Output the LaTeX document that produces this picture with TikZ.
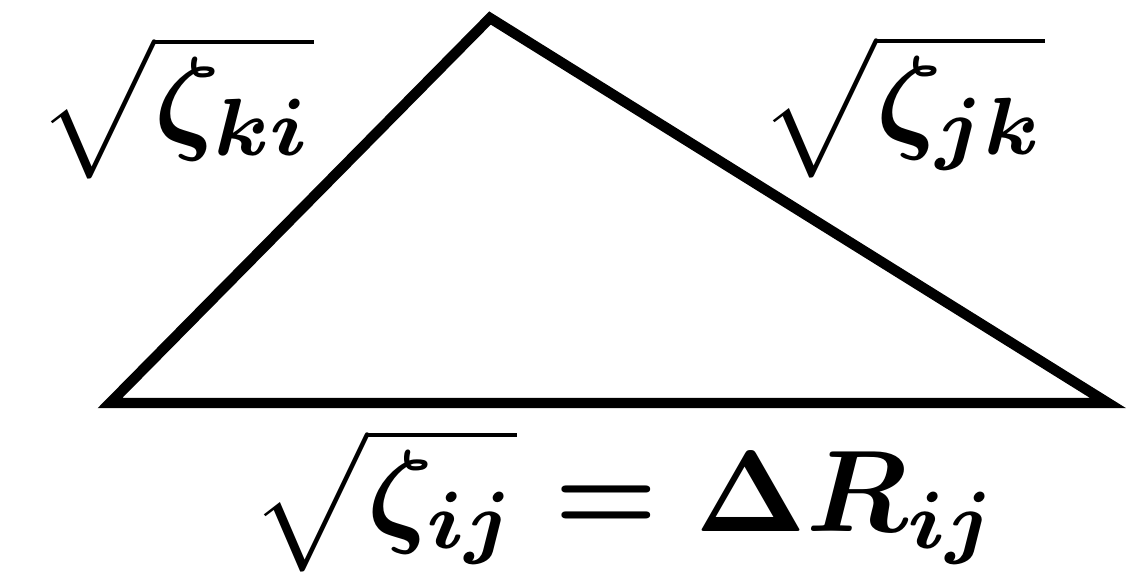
\documentclass[tikz,border=0pt]{standalone}
\usepackage{graphicx}
\newcommand{\biglbl}[1]{\scalebox{2.9}{\boldmath$#1$}}
\begin{document}
\begin{tikzpicture}[x=0.25pt,y=-0.25pt,
  lbl/.style={inner sep=0pt}]
\useasboundingbox (0,0) rectangle (1148,572);
\coordinate (A) at (490,18);
\coordinate (B) at (110,403);
\coordinate (C) at (1108,403);
\draw[line width=2.6pt] (A) -- (B) -- (C) -- cycle;
\node[lbl] (ki) at (176,107) {\biglbl{\sqrt{\vphantom{\zeta_{j}}\zeta_{ki}}}};
\node[lbl] (jk) at (903,106) {\biglbl{\sqrt{\zeta_{jk}}}};
\node[lbl] (ij) at (625,500) {\biglbl{\sqrt{\zeta_{ij}}=\Delta R_{ij}}};
\end{tikzpicture}
\end{document}
